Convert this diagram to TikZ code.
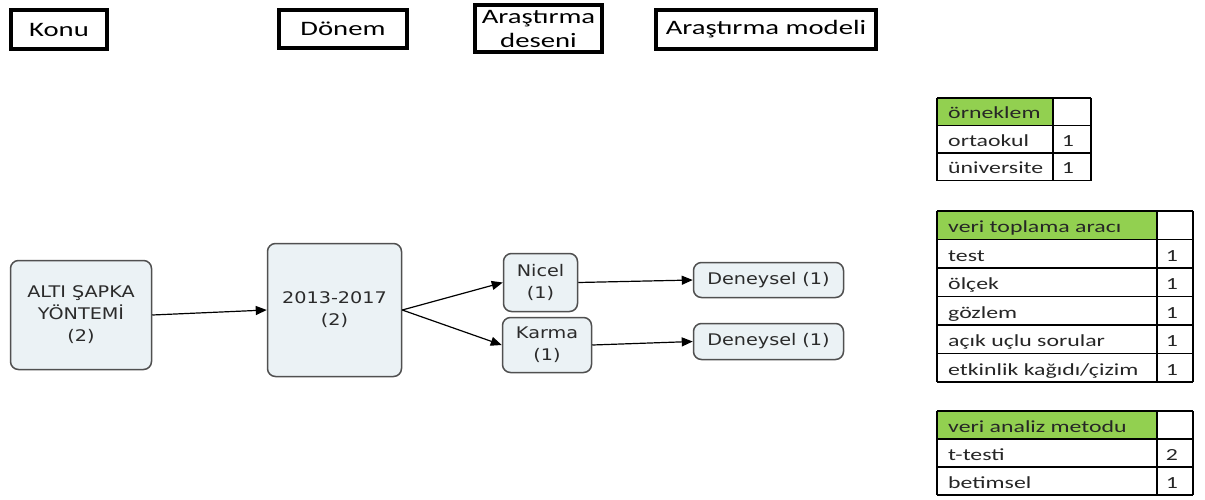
\documentclass[tikz,border=0pt]{standalone}
\usepackage{fontspec}
\usetikzlibrary{arrows.meta}
\newfontfamily\hdrfont[FakeStretch=1.4]{Carlito}
\newfontfamily\boxfont[FakeStretch=1.2]{DejaVu Sans}
\definecolor{boxfill}{HTML}{EBF2F5}
\definecolor{boxline}{HTML}{505050}
\definecolor{boxtext}{HTML}{2B2B2B}
\definecolor{hdrgreen}{HTML}{92D050}

\begin{document}
\begin{tikzpicture}[x=1pt, y=-1pt,
        hdr/.style={draw, line width=4pt, inner sep=0pt, align=center, font=\hdrfont\fontsize{20.5}{24}\selectfont},
        stage/.style={draw=boxline, fill=boxfill, line width=1.5pt, rounded corners=8pt, inner sep=0pt,
            align=center, text=boxtext, font=\boxfont\fontsize{16}{22}\selectfont},
        link/.style={-{Triangle[length=11pt,width=9pt]}, line width=1.2pt},
        cell/.style={anchor=base west, inner sep=0pt, text=black!85, font=\hdrfont\fontsize{17}{20}\selectfont},
        num/.style={cell, anchor=base}]
    \useasboundingbox (0,0) rectangle (1205,499);
    % column headers
    \node[hdr, minimum width=96pt, minimum height=39pt] (konu) at (59,29.5) {Konu};
    \node[hdr, minimum width=128pt, minimum height=38pt] (donem) at (343,29) {Dönem};
    \node[hdr, minimum width=127pt, minimum height=47pt] (desen) at (538.5,28.5) {Araştırma\\deseni};
    \node[hdr, minimum width=220pt, minimum height=39pt] (model) at (766,29.5) {Araştırma modeli};

    % flow
    \node[stage, minimum width=141pt, minimum height=109pt] (alti) at (81,315) {ALTI ŞAPKA\\YÖNTEMİ\\(2)};
    \node[stage, minimum width=134pt, minimum height=133pt] (yil) at (334.5,310) {2013-2017\\(2)};
    \node[stage, minimum width=74pt, minimum height=58pt] (nicel) at (540.5,282.5) {Nicel\\(1)};
    \node[stage, minimum width=89pt, minimum height=55pt] (karma) at (547,345) {Karma\\(1)};
    \node[stage, minimum width=150pt, minimum height=35pt] (deney1) at (768.5,280) {Deneysel (1)};
    \node[stage, minimum width=150pt, minimum height=36pt] (deney2) at (768.5,341.5) {Deneysel (1)};
    \draw[link] (alti.east) -- (yil.west);
    \draw[link] (yil.east) -- (nicel.west);
    \draw[link] (yil.east) -- (karma.west);
    \draw[link] (nicel.east) -- (deney1.west);
    \draw[link] (karma.east) -- (deney2.west);

    % table: orneklem
    \fill[hdrgreen] (937,98) rectangle (1053,125.5);
    \foreach \y in {98,125.5,153,180.5} \draw[line width=1.2pt] (937,\y) -- (1091,\y);
    \foreach \x in {937,1053,1091} \draw[line width=1.2pt] (\x,98) -- (\x,180.5);
    \node[cell] (ornk-h) at (948,118.5) {örneklem};
    \foreach \t/\n [count=\i] in {ortaokul/1, üniversite/1} {
        \node[cell] (ornk-\i) at (948,{118.5+27.5*\i}) {\t};
        \node[num] (ornk-n\i) at (1068,{118.5+27.5*\i}) {\n};
    }

    % table: veri toplama araci
    \fill[hdrgreen] (937,211) rectangle (1157,239.5);
    \foreach \i in {0,...,6} \draw[line width=1.2pt] (937,{211+28.5*\i}) -- (1193,{211+28.5*\i});
    \foreach \x in {937,1157,1193} \draw[line width=1.2pt] (\x,211) -- (\x,382);
    \node[cell] (arac-h) at (948,232.5) {veri toplama aracı};
    \foreach \t/\n [count=\i] in {test/1, ölçek/1, gözlem/1, açık uçlu sorular/1, {etkinlik kağıdı/çizim}/1} {
        \node[cell] (arac-\i) at (948,{232.5+28.5*\i}) {\t};
        \node[num] (arac-n\i) at (1172,{232.5+28.5*\i}) {\n};
    }

    % table: veri analiz metodu
    \fill[hdrgreen] (937,411) rectangle (1157,439);
    \foreach \y in {411,439,467,495} \draw[line width=1.2pt] (937,\y) -- (1193,\y);
    \foreach \x in {937,1157,1193} \draw[line width=1.2pt] (\x,411) -- (\x,495);
    \node[cell] (metot-h) at (948,432) {veri analiz metodu};
    \foreach \t/\n [count=\i] in {t-testi/2, betimsel/1} {
        \node[cell] (metot-\i) at (948,{432+28*\i}) {\t};
        \node[num] (metot-n\i) at (1172,{432+28*\i}) {\n};
    }
\end{tikzpicture}
\end{document}
